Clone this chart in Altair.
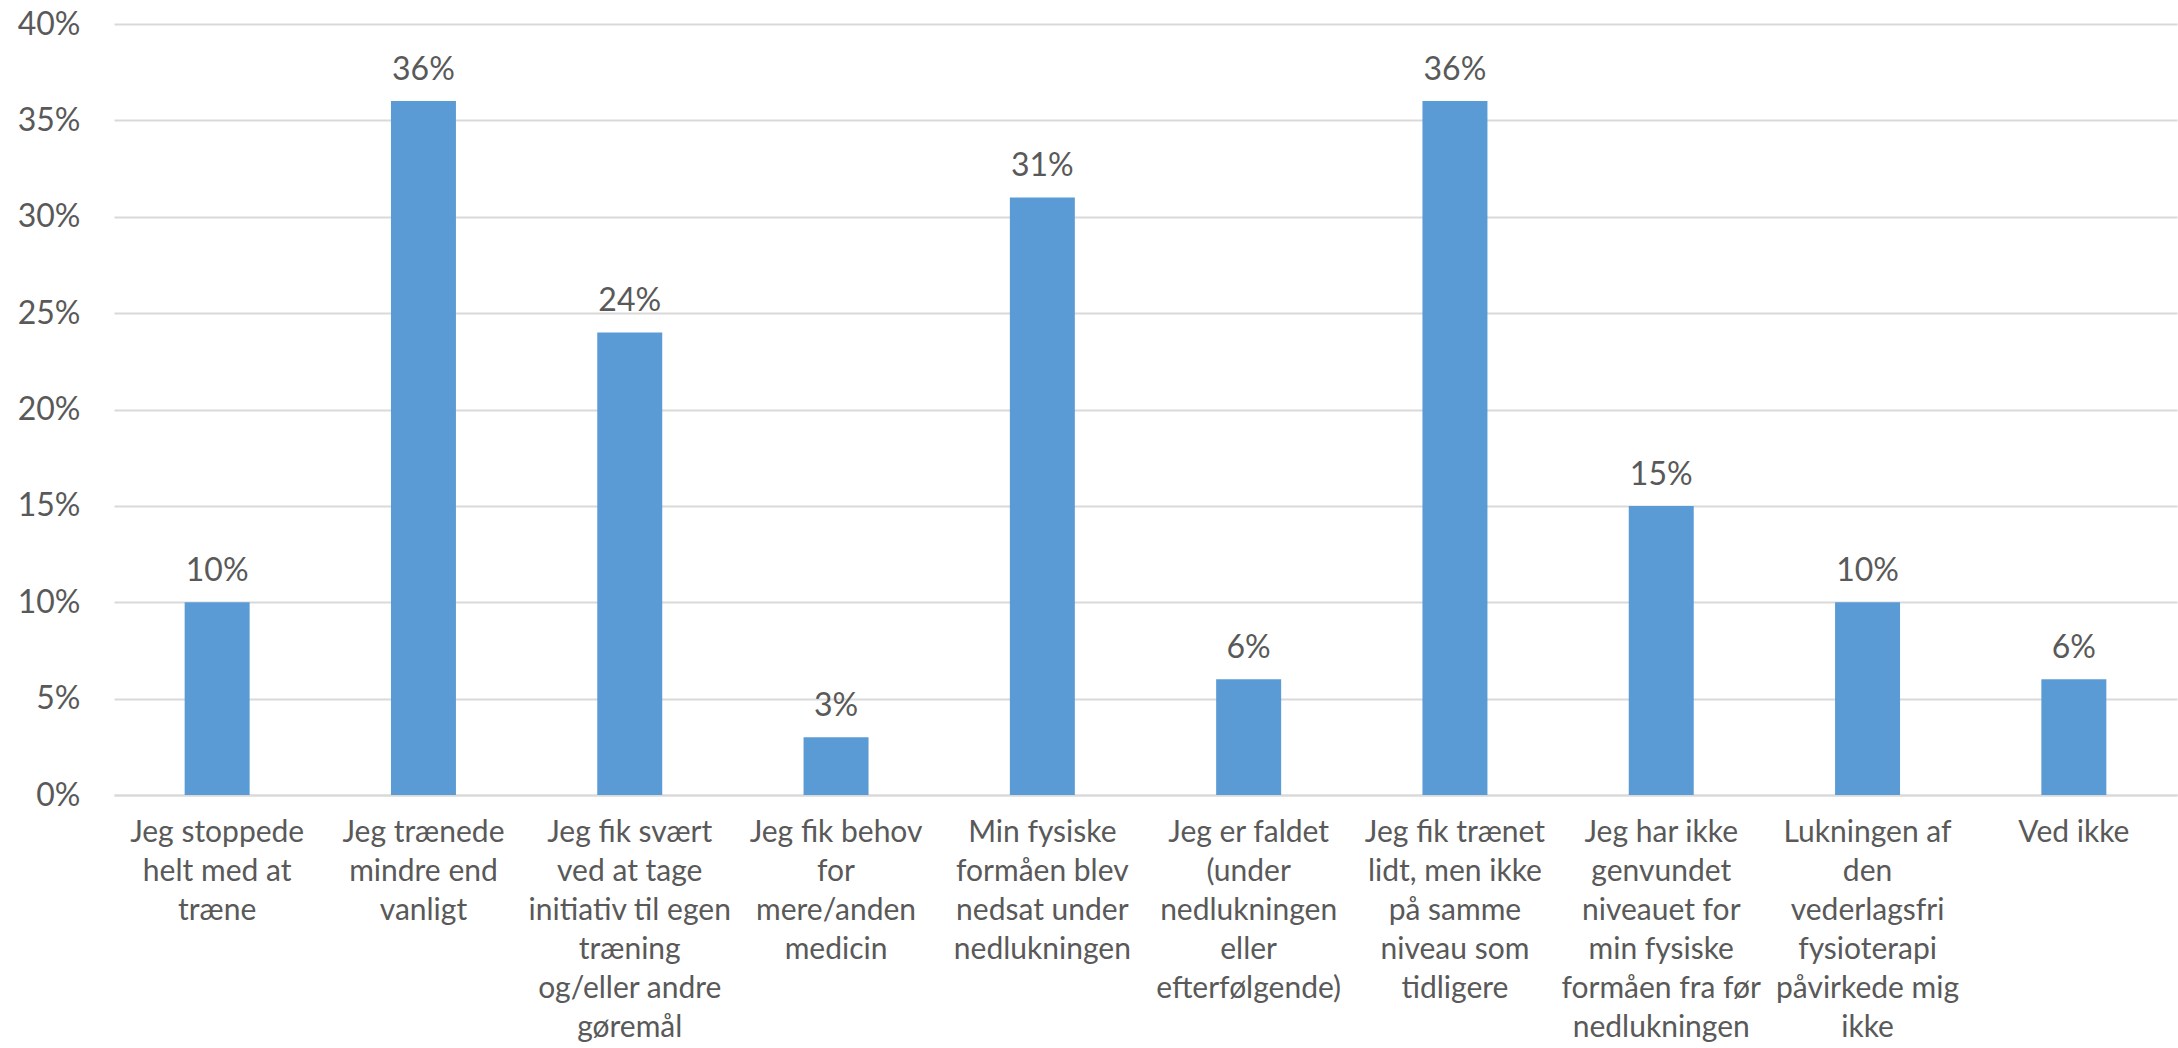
import altair as alt
import pandas as pd

categories = [
    "Jeg stoppede|helt med at|træne",
    "Jeg trænede|mindre end|vanligt",
    "Jeg fik svært|ved at tage|initiativ til egen|træning|og/eller andre|gøremål",
    "Jeg fik behov|for|mere/anden|medicin",
    "Min fysiske|formåen blev|nedsat under|nedlukningen",
    "Jeg er faldet|(under|nedlukningen|eller|efterfølgende)",
    "Jeg fik trænet|lidt, men ikke|på samme|niveau som|tidligere",
    "Jeg har ikke|genvundet|niveauet for|min fysiske|formåen fra før|nedlukningen",
    "Lukningen af|den|vederlagsfri|fysioterapi|påvirkede mig|ikke",
    "Ved ikke",
]
values = [0.10, 0.36, 0.24, 0.03, 0.31, 0.06, 0.36, 0.15, 0.10, 0.06]
y_ticks = [0, 0.05, 0.10, 0.15, 0.20, 0.25, 0.30, 0.35, 0.40]

df = pd.DataFrame({"cat": categories, "val": values})

FONT = "Lato"
TXT = "#595959"

x = alt.X(
    "cat:N",
    sort=categories,
    title=None,
    scale=alt.Scale(paddingInner=0.685, paddingOuter=0.3425),
    axis=alt.Axis(
        labelAngle=0,
        labelExpr="split(datum.label, '|')",
        labelFont=FONT,
        labelFontSize=30,
        labelColor=TXT,
        labelLineHeight=39,
        labelPadding=22,
        labelLimit=400,
        labelBaseline="top",
        ticks=False,
        grid=False,
        domainColor="#D9D9D9",
        domainWidth=2,
    ),
)
y = alt.Y(
    "val:Q",
    title=None,
    scale=alt.Scale(domain=[0, 0.4], nice=False),
    axis=alt.Axis(
        values=y_ticks,
        format=".0%",
        labelFont=FONT,
        labelFontSize=32,
        labelColor=TXT,
        labelPadding=34,
        ticks=False,
        domain=False,
        gridColor="#D9D9D9",
        gridWidth=2,
    ),
)

bars = alt.Chart(df).mark_bar(color="#5B9BD5").encode(x=x, y=y)
labels = alt.Chart(df).mark_text(
    baseline="bottom", dy=-14, font=FONT, fontSize=32, color=TXT
).encode(x=x, y=y, text=alt.Text("val:Q", format=".0%"))

chart = (
    alt.layer(bars, labels)
    .properties(
        width=2063,
        height=771,
        background="white",
        autosize=alt.AutoSizeParams(type="none"),
        padding={"left": 114, "top": 24, "right": 1, "bottom": 253},
    )
    .configure_view(stroke="transparent", strokeWidth=0)
)

chart.save("out.html", embed_options={"renderer": "svg", "actions": False})
